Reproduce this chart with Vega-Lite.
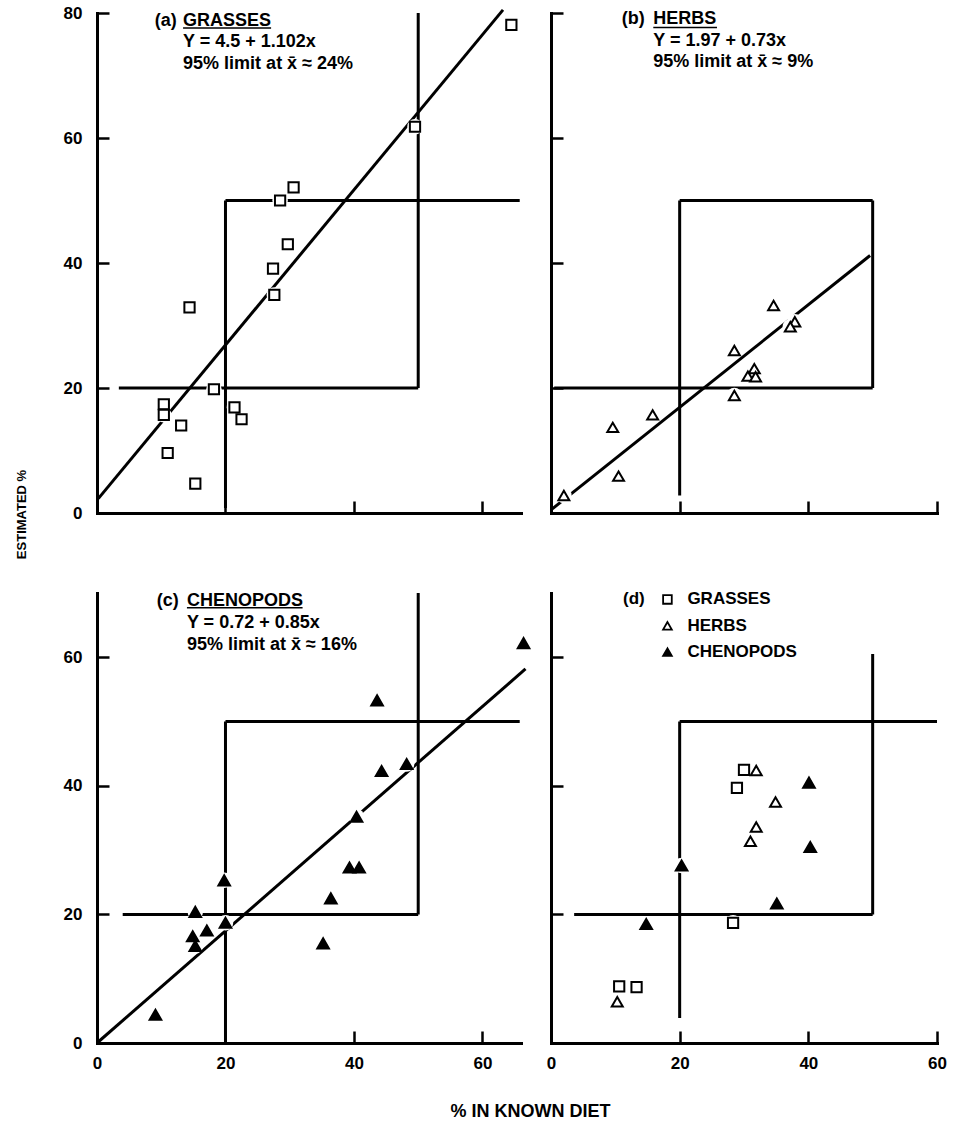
{
  "$schema": "https://vega.github.io/schema/vega-lite/v6.json",
  "background": "white",
  "padding": {"left": 14, "top": 4, "right": 0, "bottom": 0},
  "config": {
    "font": "Liberation Sans",
    "view": {"stroke": null},
    "axis": {
      "domainColor": "black", "domainWidth": 3, "domainCap": "square",
      "tickColor": "black", "tickWidth": 2.5, "tickSize": -12,
      "labelFontSize": 17, "labelFontWeight": "bold", "labelColor": "black",
      "labelPadding": 27, "labelFlush": false, "labelOverlap": false,
      "grid": false, "titleFontSize": 18, "titleFontWeight": "bold", "titleColor": "black", "zindex": 1
    },
    "axisX": {"labelPadding": 24},
    "text": {"font": "Liberation Sans"}
  },
  "datasets": {
    "points": [
      {"panel": "a", "type": "GRASSES", "x": 64.5, "y": 78.1},
      {"panel": "a", "type": "GRASSES", "x": 49.5, "y": 61.8},
      {"panel": "a", "type": "GRASSES", "x": 30.6, "y": 52.1},
      {"panel": "a", "type": "GRASSES", "x": 28.5, "y": 50.0},
      {"panel": "a", "type": "GRASSES", "x": 29.7, "y": 43.0},
      {"panel": "a", "type": "GRASSES", "x": 27.4, "y": 39.1},
      {"panel": "a", "type": "GRASSES", "x": 27.6, "y": 34.9},
      {"panel": "a", "type": "GRASSES", "x": 14.4, "y": 32.9},
      {"panel": "a", "type": "GRASSES", "x": 18.2, "y": 19.8},
      {"panel": "a", "type": "GRASSES", "x": 10.4, "y": 17.4},
      {"panel": "a", "type": "GRASSES", "x": 10.4, "y": 15.7},
      {"panel": "a", "type": "GRASSES", "x": 21.4, "y": 16.9},
      {"panel": "a", "type": "GRASSES", "x": 22.5, "y": 15.0},
      {"panel": "a", "type": "GRASSES", "x": 13.1, "y": 14.0},
      {"panel": "a", "type": "GRASSES", "x": 11.0, "y": 9.6},
      {"panel": "a", "type": "GRASSES", "x": 15.3, "y": 4.7},
      {"panel": "b", "type": "HERBS", "x": 34.6, "y": 33.2},
      {"panel": "b", "type": "HERBS", "x": 37.9, "y": 30.6},
      {"panel": "b", "type": "HERBS", "x": 37.2, "y": 29.8},
      {"panel": "b", "type": "HERBS", "x": 28.5, "y": 26.0},
      {"panel": "b", "type": "HERBS", "x": 31.6, "y": 23.1},
      {"panel": "b", "type": "HERBS", "x": 30.6, "y": 21.9},
      {"panel": "b", "type": "HERBS", "x": 31.8, "y": 21.8},
      {"panel": "b", "type": "HERBS", "x": 28.5, "y": 18.8},
      {"panel": "b", "type": "HERBS", "x": 15.8, "y": 15.7},
      {"panel": "b", "type": "HERBS", "x": 9.6, "y": 13.7},
      {"panel": "b", "type": "HERBS", "x": 10.5, "y": 5.9},
      {"panel": "b", "type": "HERBS", "x": 2.0, "y": 2.8},
      {"panel": "c", "type": "CHENOPODS", "x": 43.6, "y": 53.3},
      {"panel": "c", "type": "CHENOPODS", "x": 44.3, "y": 42.3},
      {"panel": "c", "type": "CHENOPODS", "x": 48.2, "y": 43.4},
      {"panel": "c", "type": "CHENOPODS", "x": 40.4, "y": 35.2},
      {"panel": "c", "type": "CHENOPODS", "x": 39.3, "y": 27.3},
      {"panel": "c", "type": "CHENOPODS", "x": 40.8, "y": 27.3},
      {"panel": "c", "type": "CHENOPODS", "x": 36.4, "y": 22.5},
      {"panel": "c", "type": "CHENOPODS", "x": 35.2, "y": 15.5},
      {"panel": "c", "type": "CHENOPODS", "x": 19.8, "y": 25.3},
      {"panel": "c", "type": "CHENOPODS", "x": 15.3, "y": 20.4},
      {"panel": "c", "type": "CHENOPODS", "x": 20.0, "y": 18.7},
      {"panel": "c", "type": "CHENOPODS", "x": 17.1, "y": 17.5},
      {"panel": "c", "type": "CHENOPODS", "x": 14.9, "y": 16.6},
      {"panel": "c", "type": "CHENOPODS", "x": 15.3, "y": 15.1},
      {"panel": "c", "type": "CHENOPODS", "x": 9.1, "y": 4.4},
      {"panel": "c", "type": "CHENOPODS", "x": 66.4, "y": 62.2},
      {"panel": "d", "type": "GRASSES", "x": 30.0, "y": 42.5},
      {"panel": "d", "type": "GRASSES", "x": 28.9, "y": 39.7},
      {"panel": "d", "type": "GRASSES", "x": 28.3, "y": 18.7},
      {"panel": "d", "type": "GRASSES", "x": 10.6, "y": 8.8},
      {"panel": "d", "type": "GRASSES", "x": 13.3, "y": 8.7},
      {"panel": "d", "type": "HERBS", "x": 31.9, "y": 42.4},
      {"panel": "d", "type": "HERBS", "x": 34.9, "y": 37.5},
      {"panel": "d", "type": "HERBS", "x": 31.9, "y": 33.6},
      {"panel": "d", "type": "HERBS", "x": 31.0, "y": 31.4},
      {"panel": "d", "type": "HERBS", "x": 10.3, "y": 6.4},
      {"panel": "d", "type": "CHENOPODS", "x": 40.1, "y": 40.5},
      {"panel": "d", "type": "CHENOPODS", "x": 40.3, "y": 30.5},
      {"panel": "d", "type": "CHENOPODS", "x": 20.3, "y": 27.6},
      {"panel": "d", "type": "CHENOPODS", "x": 35.1, "y": 21.7},
      {"panel": "d", "type": "CHENOPODS", "x": 14.8, "y": 18.5}
    ],
    "lines": [
      {"panel": "a", "x": 3.4, "y": 20, "x2": 50, "y2": 20},
      {"panel": "a", "x": 20, "y": 50, "x2": 65.8, "y2": 50},
      {"panel": "a", "x": 20, "y": 0.8, "x2": 20, "y2": 50},
      {"panel": "a", "x": 50, "y": 20, "x2": 50, "y2": 80},
      {"panel": "a", "x": 0.2, "y": 2.3, "x2": 63.2, "y2": 80.5},
      {"panel": "b", "x": 0.5, "y": 20, "x2": 50, "y2": 20},
      {"panel": "b", "x": 20, "y": 50, "x2": 50, "y2": 50},
      {"panel": "b", "x": 20, "y": 2.8, "x2": 20, "y2": 50},
      {"panel": "b", "x": 50, "y": 20, "x2": 50, "y2": 50},
      {"panel": "b", "x": 0, "y": 0.5, "x2": 49.6, "y2": 41.2},
      {"panel": "c", "x": 4, "y": 20, "x2": 50, "y2": 20},
      {"panel": "c", "x": 20, "y": 50, "x2": 65.8, "y2": 50},
      {"panel": "c", "x": 20, "y": 0, "x2": 20, "y2": 50},
      {"panel": "c", "x": 50, "y": 20, "x2": 50, "y2": 70},
      {"panel": "c", "x": 0, "y": 0, "x2": 66.7, "y2": 58.2},
      {"panel": "d", "x": 3.6, "y": 20, "x2": 50, "y2": 20},
      {"panel": "d", "x": 20, "y": 50, "x2": 60, "y2": 50},
      {"panel": "d", "x": 20, "y": 3.9, "x2": 20, "y2": 50},
      {"panel": "d", "x": 50, "y": 20, "x2": 50, "y2": 60.5}
    ],
    "underlines": [
      {"panel": "a", "x": 13.4, "y": 77.6, "x2": 27.1, "y2": 77.6},
      {"panel": "b", "x": 15.9, "y": 77.7, "x2": 25.8, "y2": 77.7},
      {"panel": "c", "x": 14.0, "y": 67.7, "x2": 32.0, "y2": 67.7}
    ],
    "notes": [
      {"panel": "a", "x": 9.0, "y": 78.7, "text": "(a)"},
      {"panel": "a", "x": 13.4, "y": 78.7, "text": "GRASSES"},
      {"panel": "a", "x": 13.4, "y": 75.4, "text": "Y = 4.5 + 1.102x"},
      {"panel": "a", "x": 13.4, "y": 71.9, "text": "95% limit at x̄ ≈ 24%"},
      {"panel": "b", "x": 11.0, "y": 79.0, "text": "(b)"},
      {"panel": "b", "x": 15.9, "y": 79.0, "text": "HERBS"},
      {"panel": "b", "x": 15.9, "y": 75.5, "text": "Y = 1.97 + 0.73x"},
      {"panel": "b", "x": 15.9, "y": 72.1, "text": "95% limit at x̄ ≈ 9%"},
      {"panel": "c", "x": 9.3, "y": 68.8, "text": "(c)"},
      {"panel": "c", "x": 14.0, "y": 68.8, "text": "CHENOPODS"},
      {"panel": "c", "x": 14.0, "y": 65.4, "text": "Y = 0.72 + 0.85x"},
      {"panel": "c", "x": 14.0, "y": 61.9, "text": "95% limit at x̄ ≈  16%"}
    ],
    "legendtext": [
      {"x": 11.2, "y": 69.0, "text": "(d)"},
      {"x": 21.2, "y": 69.0, "text": "GRASSES"},
      {"x": 21.2, "y": 64.9, "text": "HERBS"},
      {"x": 21.2, "y": 60.8, "text": "CHENOPODS"}
    ],
    "legendpts": [
      {"type": "GRASSES", "x": 18.1, "y": 69.0},
      {"type": "HERBS", "x": 18.1, "y": 64.9},
      {"type": "CHENOPODS", "x": 18.1, "y": 60.8}
    ]
  },
  "columns": 2,
  "spacing": {"row": 80, "column": 30},
  "bounds": "flush",
  "concat": [
    {
      "width": 424, "height": 500,
      "encoding": {
        "x": {"field": "x", "type": "quantitative", "scale": {"domain": [0, 66], "nice": false, "zero": false}, "axis": {"values": [0, 20, 40, 60], "labels": false, "title": null}},
        "y": {"field": "y", "type": "quantitative", "scale": {"domain": [0, 80], "nice": false, "zero": false}, "axis": {"values": [0, 20, 40, 60, 80], "title": null}}
      },
      "layer": [
        {"data": {"name": "lines"}, "transform": [{"filter": "datum.panel === 'a'"}], "mark": {"type": "rule", "color": "black", "strokeWidth": 3}, "encoding": {"x2": {"field": "x2"}, "y2": {"field": "y2"}}},
        {"data": {"name": "underlines"}, "transform": [{"filter": "datum.panel === 'a'"}], "mark": {"type": "rule", "color": "black", "strokeWidth": 1.5}, "encoding": {"x2": {"field": "x2"}, "y2": {"field": "y2"}}},
        {"data": {"name": "points"}, "transform": [{"filter": "datum.panel === 'a'"}], "mark": {"type": "point", "shape": "circle", "filled": true, "fill": "white", "opacity": 1, "size": 240}},
        {"data": {"name": "points"}, "transform": [{"filter": "datum.panel === 'a'"}], "mark": {"type": "point", "filled": true, "stroke": "black", "strokeWidth": 2, "opacity": 1},
         "encoding": {
           "shape": {"field": "type", "type": "nominal", "scale": {"domain": ["GRASSES", "HERBS", "CHENOPODS"], "range": ["square", "triangle-up", "triangle-up"]}, "legend": null},
           "fill": {"field": "type", "type": "nominal", "scale": {"domain": ["GRASSES", "HERBS", "CHENOPODS"], "range": ["white", "white", "black"]}, "legend": null},
           "size": {"field": "type", "type": "ordinal", "scale": {"domain": ["GRASSES", "HERBS", "CHENOPODS"], "range": [105, 135, 125]}, "legend": null}
         }},
        {"data": {"name": "notes"}, "transform": [{"filter": "datum.panel === 'a'"}], "mark": {"type": "text", "align": "left", "baseline": "middle", "fontSize": 18, "fontWeight": "bold", "color": "black"}, "encoding": {"text": {"field": "text"}}}
      ]
    },
    {
      "width": 386, "height": 500,
      "encoding": {
        "x": {"field": "x", "type": "quantitative", "scale": {"domain": [0, 60], "nice": false, "zero": false}, "axis": {"values": [0, 20, 40, 60], "labels": false, "title": null}},
        "y": {"field": "y", "type": "quantitative", "scale": {"domain": [0, 80], "nice": false, "zero": false}, "axis": {"values": [0, 20, 40, 60, 80], "labels": false, "title": null}}
      },
      "layer": [
        {"data": {"name": "lines"}, "transform": [{"filter": "datum.panel === 'b'"}], "mark": {"type": "rule", "color": "black", "strokeWidth": 3}, "encoding": {"x2": {"field": "x2"}, "y2": {"field": "y2"}}},
        {"data": {"name": "underlines"}, "transform": [{"filter": "datum.panel === 'b'"}], "mark": {"type": "rule", "color": "black", "strokeWidth": 1.5}, "encoding": {"x2": {"field": "x2"}, "y2": {"field": "y2"}}},
        {"data": {"name": "points"}, "transform": [{"filter": "datum.panel === 'b'"}], "mark": {"type": "point", "shape": "circle", "filled": true, "fill": "white", "opacity": 1, "size": 240}},
        {"data": {"name": "points"}, "transform": [{"filter": "datum.panel === 'b'"}], "mark": {"type": "point", "filled": true, "stroke": "black", "strokeWidth": 2, "opacity": 1},
         "encoding": {
           "shape": {"field": "type", "type": "nominal", "scale": {"domain": ["GRASSES", "HERBS", "CHENOPODS"], "range": ["square", "triangle-up", "triangle-up"]}, "legend": null},
           "fill": {"field": "type", "type": "nominal", "scale": {"domain": ["GRASSES", "HERBS", "CHENOPODS"], "range": ["white", "white", "black"]}, "legend": null},
           "size": {"field": "type", "type": "ordinal", "scale": {"domain": ["GRASSES", "HERBS", "CHENOPODS"], "range": [105, 135, 125]}, "legend": null}
         }},
        {"data": {"name": "notes"}, "transform": [{"filter": "datum.panel === 'b'"}], "mark": {"type": "text", "align": "left", "baseline": "middle", "fontSize": 18, "fontWeight": "bold", "color": "black"}, "encoding": {"text": {"field": "text"}}}
      ]
    },
    {
      "width": 424, "height": 450,
      "encoding": {
        "x": {"field": "x", "type": "quantitative", "scale": {"domain": [0, 66], "nice": false, "zero": false}, "axis": {"values": [0, 20, 40, 60], "title": "% IN KNOWN DIET", "titleX": 433, "titleY": 68, "titleAlign": "center", "titleBaseline": "middle"}},
        "y": {"field": "y", "type": "quantitative", "scale": {"domain": [0, 70], "nice": false, "zero": false}, "axis": {"values": [0, 20, 40, 60], "title": "ESTIMATED %", "titleX": -76, "titleY": -79, "titleAngle": -90, "titleAlign": "center", "titleBaseline": "middle", "titleFontSize": 13}}
      },
      "layer": [
        {"data": {"name": "lines"}, "transform": [{"filter": "datum.panel === 'c'"}], "mark": {"type": "rule", "color": "black", "strokeWidth": 3}, "encoding": {"x2": {"field": "x2"}, "y2": {"field": "y2"}}},
        {"data": {"name": "underlines"}, "transform": [{"filter": "datum.panel === 'c'"}], "mark": {"type": "rule", "color": "black", "strokeWidth": 1.5}, "encoding": {"x2": {"field": "x2"}, "y2": {"field": "y2"}}},
        {"data": {"name": "points"}, "transform": [{"filter": "datum.panel === 'c'"}], "mark": {"type": "point", "shape": "circle", "filled": true, "fill": "white", "opacity": 1, "size": 240}},
        {"data": {"name": "points"}, "transform": [{"filter": "datum.panel === 'c'"}], "mark": {"type": "point", "filled": true, "stroke": "black", "strokeWidth": 2, "opacity": 1},
         "encoding": {
           "shape": {"field": "type", "type": "nominal", "scale": {"domain": ["GRASSES", "HERBS", "CHENOPODS"], "range": ["square", "triangle-up", "triangle-up"]}, "legend": null},
           "fill": {"field": "type", "type": "nominal", "scale": {"domain": ["GRASSES", "HERBS", "CHENOPODS"], "range": ["white", "white", "black"]}, "legend": null},
           "size": {"field": "type", "type": "ordinal", "scale": {"domain": ["GRASSES", "HERBS", "CHENOPODS"], "range": [105, 135, 125]}, "legend": null}
         }},
        {"data": {"name": "notes"}, "transform": [{"filter": "datum.panel === 'c'"}], "mark": {"type": "text", "align": "left", "baseline": "middle", "fontSize": 18, "fontWeight": "bold", "color": "black"}, "encoding": {"text": {"field": "text"}}}
      ]
    },
    {
      "width": 386, "height": 450,
      "encoding": {
        "x": {"field": "x", "type": "quantitative", "scale": {"domain": [0, 60], "nice": false, "zero": false}, "axis": {"values": [0, 20, 40, 60], "title": null}},
        "y": {"field": "y", "type": "quantitative", "scale": {"domain": [0, 70], "nice": false, "zero": false}, "axis": {"values": [0, 20, 40, 60], "labels": false, "title": null}}
      },
      "layer": [
        {"data": {"name": "lines"}, "transform": [{"filter": "datum.panel === 'd'"}], "mark": {"type": "rule", "color": "black", "strokeWidth": 3}, "encoding": {"x2": {"field": "x2"}, "y2": {"field": "y2"}}},
        {"data": {"name": "points"}, "transform": [{"filter": "datum.panel === 'd'"}], "mark": {"type": "point", "shape": "circle", "filled": true, "fill": "white", "opacity": 1, "size": 240}},
        {"data": {"name": "points"}, "transform": [{"filter": "datum.panel === 'd'"}], "mark": {"type": "point", "filled": true, "stroke": "black", "strokeWidth": 2, "opacity": 1},
         "encoding": {
           "shape": {"field": "type", "type": "nominal", "scale": {"domain": ["GRASSES", "HERBS", "CHENOPODS"], "range": ["square", "triangle-up", "triangle-up"]}, "legend": null},
           "fill": {"field": "type", "type": "nominal", "scale": {"domain": ["GRASSES", "HERBS", "CHENOPODS"], "range": ["white", "white", "black"]}, "legend": null},
           "size": {"field": "type", "type": "ordinal", "scale": {"domain": ["GRASSES", "HERBS", "CHENOPODS"], "range": [105, 135, 125]}, "legend": null}
         }},
        {"data": {"name": "legendpts"}, "mark": {"type": "point", "filled": true, "stroke": "black", "strokeWidth": 1.8, "opacity": 1, "size": 75},
         "encoding": {
           "shape": {"field": "type", "type": "nominal", "scale": {"domain": ["GRASSES", "HERBS", "CHENOPODS"], "range": ["square", "triangle-up", "triangle-up"]}, "legend": null},
           "fill": {"field": "type", "type": "nominal", "scale": {"domain": ["GRASSES", "HERBS", "CHENOPODS"], "range": ["white", "white", "black"]}, "legend": null}
         }},
        {"data": {"name": "legendtext"}, "mark": {"type": "text", "align": "left", "baseline": "middle", "fontSize": 17, "fontWeight": "bold", "color": "black"}, "encoding": {"text": {"field": "text"}}}
      ]
    }
  ]
}
